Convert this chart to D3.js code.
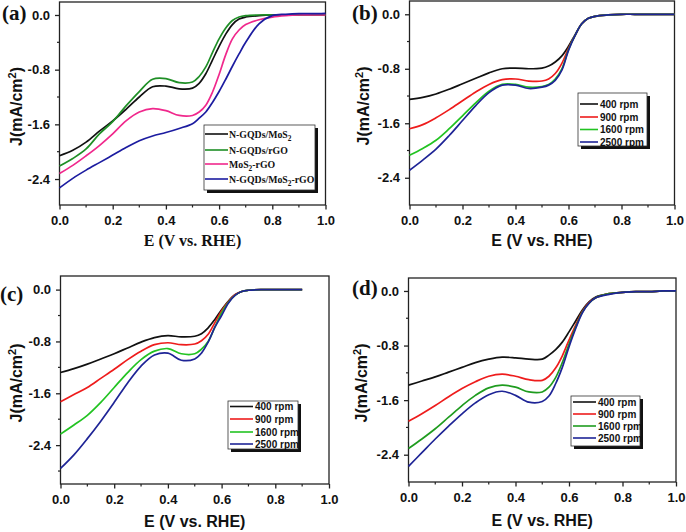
<!DOCTYPE html>
<html><head><meta charset="utf-8">
<script src="https://cdn.jsdelivr.net/npm/d3@7"></script>
<style>html,body{margin:0;padding:0;background:#fff;}svg{display:block;}</style>
</head><body>
<svg id="c" width="686" height="532"></svg>
<script>
// ---- data ----
const xs = [0,.05,.1,.15,.2,.25,.3,.35,.4,.45,.5,.525,.55,.575,.6,.625,.65,.675,.7,.75,.8,.85,.9,.95,1];
const xTicks = [0,0.2,0.4,0.6,0.8,1.0];
const yTicks = [0,-0.8,-1.6,-2.4];

const aLabels = ["N-GQDs/MoS2","N-GQDs/rGO","MoS2-rGO","N-GQDs/MoS2-rGO"];
const aBlack = [-2.06,-1.98,-1.86,-1.70,-1.55,-1.38,-1.20,-1.05,-1.04,-1.08,-1.07,-1.00,-0.86,-0.66,-0.46,-0.28,-0.14,-0.06,-0.03,-0.01,0,0,0,0,0];
const aGreen = [-2.21,-2.10,-1.96,-1.74,-1.56,-1.33,-1.12,-0.94,-0.93,-0.99,-0.98,-0.90,-0.76,-0.55,-0.35,-0.19,-0.08,-0.03,-0.01,0,0,0,0,0,0];
const aPink  = [-2.32,-2.20,-2.06,-1.91,-1.74,-1.55,-1.42,-1.37,-1.40,-1.47,-1.47,-1.42,-1.32,-1.13,-0.87,-0.58,-0.35,-0.22,-0.14,-0.07,-0.03,-0.01,0,0,0];
const aBlue  = [-2.53,-2.39,-2.27,-2.16,-2.05,-1.94,-1.84,-1.77,-1.72,-1.66,-1.59,-1.51,-1.42,-1.28,-1.12,-0.94,-0.75,-0.57,-0.40,-0.13,-0.01,0.01,0.02,0.02,0.025];

const rpmLabels = ["400 rpm","900 rpm","1600 rpm","2500 rpm"];
const b400  = [-1.25,-1.22,-1.17,-1.10,-1.02,-0.94,-0.86,-0.80,-0.79,-0.80,-0.79,-0.76,-0.70,-0.61,-0.47,-0.30,-0.14,-0.06,-0.03,-0.01,0,0,0,0,0];
const b900  = [-1.68,-1.62,-1.52,-1.40,-1.27,-1.14,-1.03,-0.96,-0.95,-0.98,-0.98,-0.95,-0.87,-0.72,-0.50,-0.31,-0.14,-0.06,-0.03,-0.01,0,0,0,0,0];
const b1600 = [-2.07,-1.97,-1.85,-1.68,-1.49,-1.30,-1.13,-1.03,-1.03,-1.07,-1.06,-1.03,-0.95,-0.80,-0.52,-0.31,-0.14,-0.06,-0.03,-0.01,0,0,0,0,0];
const b2500 = [-2.29,-2.14,-1.98,-1.78,-1.56,-1.34,-1.15,-1.04,-1.04,-1.09,-1.07,-1.04,-0.97,-0.82,-0.53,-0.31,-0.14,-0.06,-0.03,-0.01,0,0,0,0,0];

const c400  = [-1.28,-1.22,-1.15,-1.07,-0.99,-0.90,-0.81,-0.74,-0.71,-0.73,-0.72,-0.68,-0.59,-0.46,-0.31,-0.18,-0.08,-0.03,-0.01,0,0,0,0];
const c900  = [-1.73,-1.62,-1.51,-1.37,-1.23,-1.08,-0.95,-0.85,-0.82,-0.85,-0.84,-0.79,-0.69,-0.51,-0.33,-0.19,-0.08,-0.03,-0.01,0,0,0,0];
const c1600 = [-2.23,-2.09,-1.94,-1.74,-1.51,-1.28,-1.08,-0.95,-0.91,-0.99,-0.99,-0.92,-0.80,-0.58,-0.36,-0.20,-0.09,-0.03,-0.01,0,0,0,0];
const c2500 = [-2.76,-2.55,-2.30,-2.03,-1.74,-1.44,-1.18,-1.01,-0.98,-1.09,-1.07,-0.98,-0.81,-0.58,-0.40,-0.21,-0.09,-0.03,-0.01,0,0,0,0];

const d400  = [-1.38,-1.32,-1.26,-1.19,-1.12,-1.05,-1.00,-0.97,-0.98,-1.00,-1.00,-0.94,-0.86,-0.75,-0.60,-0.44,-0.28,-0.16,-0.09,-0.04,-0.02,-0.01,-0.01,0,0];
const d900  = [-1.91,-1.80,-1.68,-1.55,-1.43,-1.33,-1.25,-1.22,-1.25,-1.30,-1.31,-1.25,-1.13,-0.95,-0.72,-0.50,-0.30,-0.17,-0.10,-0.04,-0.02,-0.01,-0.01,0,0];
const d1600 = [-2.31,-2.17,-2.02,-1.85,-1.68,-1.53,-1.42,-1.38,-1.41,-1.48,-1.48,-1.41,-1.27,-1.05,-0.78,-0.53,-0.31,-0.18,-0.10,-0.04,-0.02,-0.01,-0.01,0,0];
const d2500 = [-2.57,-2.37,-2.17,-1.98,-1.80,-1.64,-1.52,-1.47,-1.53,-1.63,-1.62,-1.54,-1.36,-1.12,-0.82,-0.55,-0.32,-0.18,-0.10,-0.05,-0.02,-0.01,-0.01,0,0];

// ---- drawing ----
const svg = d3.select("#c");
const SANS = "Arial, 'Liberation Sans', Helvetica, sans-serif";
const SERIF = "'Times New Roman', 'Liberation Serif', Times, serif";

const panels = [
  {tag:"(a)", tagX:2, tagY:20, left:59.5, right:325.5, top:2, bottom:205, ydom:[-2.78,0.19],
   series:[aBlack,aGreen,aPink,aBlue], colors:["#111111","#1f8f26","#f0288c","#1c1ca0"], labels:aLabels,
   legend:{x:204,y:125,w:111,h:65,rows:[134,150,164,179],lx1:205,lx2:228,tx:229,font:SERIF,size:9.8,sub:true},
   xTitleFont:SERIF, xTitleY:246, yTitleX:22},
  {tag:"(b)", tagX:352, tagY:20, left:409.5, right:674.5, top:1, bottom:205, ydom:[-2.8,0.195],
   series:[b400,b900,b1600,b2500], colors:["#111111","#ee1c1c","#22c322","#1e2496"], labels:rpmLabels,
   legend:{x:578,y:93,w:69,h:53,rows:[104,117,129.5,142],lx1:580,lx2:598,tx:600,font:SANS,size:10,sub:false},
   xTitleFont:SANS, xTitleY:246, yTitleX:369},
  {tag:"(c)", tagX:0, tagY:301, left:60.5, right:329, top:276, bottom:484, ydom:[-3.0,0.21],
   series:[c400,c900,c1600,c2500], colors:["#111111","#ee1c1c","#22c322","#1e2496"], labels:rpmLabels,
   legend:{x:228,y:401,w:70,h:48,rows:[406.5,419,432,444],lx1:230,lx2:253,tx:255,font:SANS,size:10,sub:false},
   xTitleFont:SANS, xTitleY:527, yTitleX:22},
  {tag:"(d)", tagX:352, tagY:295, left:408.5, right:676, top:278, bottom:482, ydom:[-2.8,0.19],
   series:[d400,d900,d1600,d2500], colors:["#111111","#ee1c1c","#1f9c1f","#1e2496"], labels:rpmLabels,
   legend:{x:571,y:396,w:69,h:50,rows:[402,414,426,438],lx1:573,lx2:596,tx:598,font:SANS,size:10,sub:false},
   xTitleFont:SANS, xTitleY:526, yTitleX:367}
];

function addSubLabel(sel, label, sub) {
  if (!sub) { sel.text(label); return; }
  // render the "2" in MoS2 as a subscript
  const parts = label.split("MoS2");
  let shift = 0;
  parts.forEach((p,i)=>{
    if (p) { sel.append("tspan").attr("dy",-shift).text(p); shift = 0; }
    if (i < parts.length-1) {
      sel.append("tspan").attr("dy",-shift).text("MoS");
      sel.append("tspan").attr("dy",3).attr("font-size","0.75em").text("2");
      shift = 3;
    }
  });
}

panels.forEach(P=>{
  const g = svg.append("g");
  const x = d3.scaleLinear().domain([0,1]).range([P.left,P.right]);
  const y = d3.scaleLinear().domain(P.ydom).range([P.bottom,P.top]);

  // frame
  g.append("rect").attr("x",P.left).attr("y",P.top).attr("width",P.right-P.left).attr("height",P.bottom-P.top)
    .attr("fill","none").attr("stroke","#222").attr("stroke-width",1.3);

  // minor ticks
  const xMinor = d3.range(0.1,1.0,0.2);
  const yMinor = d3.range(-0.4,-2.9,-0.8).filter(v=>v>=P.ydom[0]);
  g.selectAll(null).data(xMinor).join("line")
    .attr("x1",d=>x(d)).attr("x2",d=>x(d)).attr("y1",P.bottom).attr("y2",P.bottom+2.5)
    .attr("stroke","#222").attr("stroke-width",1.2);
  g.selectAll(null).data(yMinor).join("line")
    .attr("y1",d=>y(d)).attr("y2",d=>y(d)).attr("x1",P.left).attr("x2",P.left-2.5)
    .attr("stroke","#222").attr("stroke-width",1.2);

  // axes
  const xa = g.append("g").attr("transform",`translate(0,${P.bottom})`)
    .call(d3.axisBottom(x).tickValues(xTicks).tickFormat(d3.format(".1f")).tickSize(4.5).tickPadding(6));
  const ya = g.append("g").attr("transform",`translate(${P.left},0)`)
    .call(d3.axisLeft(y).tickValues(yTicks).tickFormat(d=>d===0?"0.0":"-"+d3.format(".1f")(-d)).tickSize(4.5).tickPadding(5));
  [xa,ya].forEach(a=>{
    a.select(".domain").remove();
    a.selectAll(".tick line").attr("stroke","#222").attr("stroke-width",1.3);
    a.selectAll(".tick text").attr("font-family",SANS).attr("font-weight","bold").attr("font-size",13).attr("fill","#111");
  });

  // curves
  const line = d3.line().x((d,i)=>x(xs[i])).y(d=>y(d)).curve(d3.curveCatmullRom.alpha(0.5));
  P.series.forEach((s,k)=>{
    g.append("path").attr("d",line(s)).attr("fill","none").attr("stroke",P.colors[k])
      .attr("stroke-width",1.7).attr("stroke-linejoin","round");
  });

  // legend
  const L = P.legend;
  g.append("rect").attr("x",L.x+3).attr("y",L.y+3).attr("width",L.w).attr("height",L.h).attr("fill","#111");
  g.append("rect").attr("x",L.x).attr("y",L.y).attr("width",L.w).attr("height",L.h).attr("fill","#fff")
    .attr("stroke","#333").attr("stroke-width",0.8);
  P.labels.forEach((lab,k)=>{
    g.append("line").attr("x1",L.lx1).attr("x2",L.lx2).attr("y1",L.rows[k]).attr("y2",L.rows[k])
      .attr("stroke",P.colors[k]).attr("stroke-width",1.6);
    const t = g.append("text").attr("x",L.tx).attr("y",L.rows[k]+3.6)
      .attr("font-family",L.font).attr("font-weight","bold").attr("font-size",L.size).attr("fill","#111");
    addSubLabel(t, lab, L.sub);
  });

  // axis titles
  g.append("text").attr("x",(P.left+P.right)/2).attr("y",P.xTitleY).attr("text-anchor","middle")
    .attr("font-family",P.xTitleFont).attr("font-weight","bold").attr("font-size",16).attr("fill","#111")
    .text("E (V vs. RHE)");
  const yt = g.append("text").attr("transform",`translate(${P.yTitleX},${(P.top+P.bottom)/2+3}) rotate(-90)`)
    .attr("text-anchor","middle").attr("font-family",SANS).attr("font-weight","bold").attr("font-size",16).attr("fill","#111");
  yt.append("tspan").text("J(mA/cm");
  yt.append("tspan").attr("dy",-6).attr("font-size",11).text("2");
  yt.append("tspan").attr("dy",6).text(")");

  // panel tag
  g.append("text").attr("x",P.tagX).attr("y",P.tagY).attr("font-family",SERIF).attr("font-weight","bold")
    .attr("font-size",21).attr("fill","#111").text(P.tag);
});
</script>
</body></html>
